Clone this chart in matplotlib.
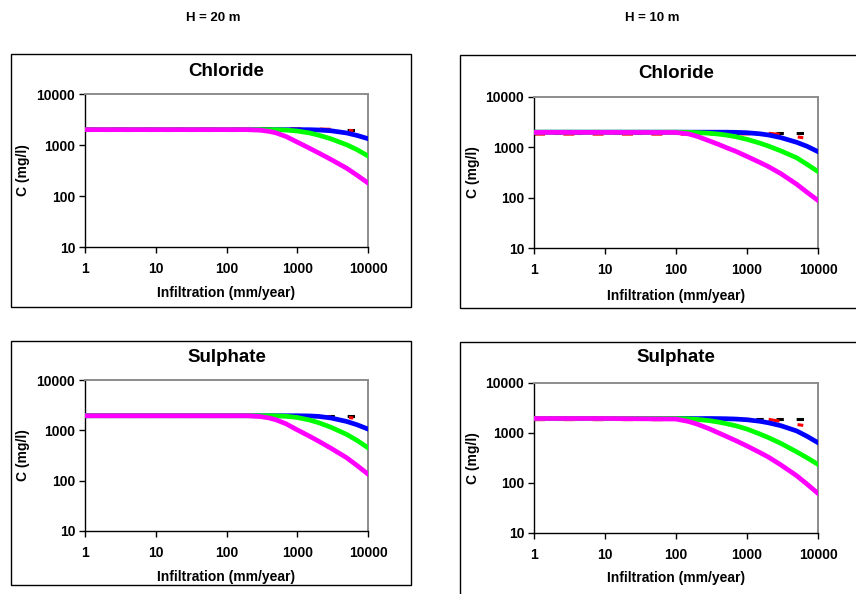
import numpy as np
import matplotlib
matplotlib.use("Agg")
import matplotlib.pyplot as plt
from matplotlib.patches import Rectangle
from matplotlib.ticker import FixedLocator, FixedFormatter, NullLocator

plt.rcParams["font.family"] = ["Liberation Sans", "DejaVu Sans"]
plt.rcParams["font.weight"] = "bold"

W, H = 856, 594

# Infiltration values (mm/year) shared by the model curves
infil = [1, 10, 100, 150, 200, 300, 400, 500, 700, 1000, 1500, 2000, 3000, 5000, 7000, 10000]

# Dashed reference series
black_x = [1, 10, 100, 1000, 7600]
red_x = [1, 10, 100, 1000, 2000, 3000, 5000, 6200]

# Chloride, H = 20 m
cl20_blue = [2000, 2000, 2000, 2000, 2000, 2000, 2000, 2000, 2000, 2000, 1995, 1970, 1900, 1720, 1540, 1330]
cl20_green = [2000, 2000, 2000, 2000, 2000, 2000, 2000, 1995, 1960, 1880, 1720, 1560, 1320, 1010, 810, 610]
cl20_magenta = [2000, 2000, 2000, 2000, 2000, 1950, 1850, 1730, 1460, 1140, 860, 700, 520, 350, 255, 180]
cl20_black = [2000, 2000, 2000, 2000, 2000]
cl20_red = [2080, 2080, 2080, 2080, 2060, 2030, 1950, 1900]

# Chloride, H = 10 m
cl10_blue = [2000, 2000, 2000, 2000, 2000, 2000, 2000, 2000, 1985, 1950, 1860, 1760, 1560, 1260, 1050, 820]
cl10_green = [2000, 2000, 2000, 1985, 1960, 1900, 1830, 1760, 1620, 1440, 1220, 1060, 850, 620, 460, 330]
cl10_magenta = [1980, 1980, 1975, 1850, 1650, 1330, 1140, 1000, 830, 660, 505, 415, 300, 185, 128, 88]
cl10_black = [1900, 1900, 1900, 1900, 1900]
cl10_red = [1830, 1830, 1830, 1850, 1900, 1800, 1620, 1550]

# Sulphate, H = 20 m
so20_blue = [1950, 1950, 1950, 1950, 1950, 1950, 1950, 1950, 1950, 1950, 1930, 1890, 1760, 1500, 1290, 1060]
so20_green = [1950, 1950, 1950, 1950, 1950, 1950, 1950, 1940, 1900, 1800, 1600, 1420, 1150, 830, 630, 450]
so20_magenta = [1950, 1950, 1950, 1950, 1950, 1880, 1760, 1620, 1340, 1020, 760, 610, 440, 285, 200, 135]
so20_black = [1950, 1950, 1950, 1950, 1950]
so20_red = [1900, 1900, 1900, 1900, 1880, 1860, 1800, 1760]

# Sulphate, H = 10 m
so10_blue = [1950, 1950, 1950, 1950, 1940, 1950, 1940, 1930, 1900, 1840, 1720, 1600, 1400, 1100, 860, 640]
so10_green = [1950, 1950, 1950, 1920, 1870, 1760, 1650, 1550, 1390, 1200, 960, 810, 620, 420, 320, 235]
so10_magenta = [1950, 1950, 1900, 1700, 1500, 1200, 1000, 870, 700, 550, 410, 330, 230, 140, 95, 62]
so10_black = [1900, 1900, 1900, 1900, 1900]
so10_red = [1850, 1850, 1850, 1870, 1880, 1700, 1480, 1420]

x_ticks = [1, 10, 100, 1000, 10000]
x_tick_labels = ["1", "10", "100", "1000", "10000"]
y_ticks = [10, 100, 1000, 10000]
y_tick_labels = ["10", "100", "1000", "10000"]

column_titles = ["H = 20 m", "H = 10 m"]
panel_titles = ["Chloride", "Sulphate"]
x_label = "Infiltration (mm/year)"
y_label = "C (mg/l)"

fig = plt.figure(figsize=(W / 100, H / 100), dpi=100)


def fx(px):
    return px / W


def fy(py):
    return 1 - py / H


def frame(x0, y0, x1, y1):
    fig.add_artist(Rectangle((fx(x0), fy(y1)), fx(x1) - fx(x0), fy(y0) - fy(y1),
                             transform=fig.transFigure, fill=False,
                             edgecolor="black", linewidth=1.0, clip_on=False))


def panel(box, title, blue, green, magenta, black, red, frame_box, title_y, label_y, ylabel_x):
    x0, y0, x1, y1 = box
    ax = fig.add_axes([fx(x0), fy(y1), fx(x1) - fx(x0), fy(y0) - fy(y1)])
    ax.set_xscale("log")
    ax.set_yscale("log")
    ax.set_xlim(1, 10000)
    ax.set_ylim(10, 10000)

    ax.plot(black_x, black, color="black", lw=2.2, dashes=(2.4, 4.2), solid_capstyle="butt", zorder=2)
    ax.plot(red_x, red, color="#FF0000", lw=2.2, dashes=(3.6, 6.0), solid_capstyle="butt", zorder=2)
    ax.plot(infil, blue, color="#0000FF", lw=3.4, zorder=3, solid_joinstyle="round")
    ax.plot(infil, green, color="#00FF00", lw=3.4, zorder=4, solid_joinstyle="round")
    ax.plot(infil, magenta, color="#FF00FF", lw=3.4, zorder=5, solid_joinstyle="round")

    ax.xaxis.set_major_locator(FixedLocator(x_ticks))
    ax.xaxis.set_major_formatter(FixedFormatter(x_tick_labels))
    ax.yaxis.set_major_locator(FixedLocator(y_ticks))
    ax.yaxis.set_major_formatter(FixedFormatter(y_tick_labels))
    ax.xaxis.set_minor_locator(NullLocator())
    ax.yaxis.set_minor_locator(NullLocator())
    ax.tick_params(axis="both", direction="out", length=4, width=1, colors="black",
                   labelsize=10, pad=3)
    ax.tick_params(axis="x", pad=7)
    for lab in ax.get_xticklabels() + ax.get_yticklabels():
        lab.set_fontweight("bold")

    for side in ("left", "bottom"):
        ax.spines[side].set_color("black")
        ax.spines[side].set_linewidth(1.0)
    for side in ("top", "right"):
        ax.spines[side].set_color("#8c8c8c")
        ax.spines[side].set_linewidth(1.4)

    cx = (x0 + x1) / 2
    fig.text(fx(cx), fy(title_y), title, ha="center", va="center",
             fontsize=13.5, fontweight="bold")
    fig.text(fx(cx), fy(label_y), x_label, ha="center", va="center",
             fontsize=10, fontweight="bold")
    fig.text(fx(ylabel_x), fy((y0 + y1) / 2), y_label, ha="center", va="center",
             rotation=90, fontsize=10, fontweight="bold")
    frame(*frame_box)
    return ax


panel((85, 94, 368, 247), panel_titles[0], cl20_blue, cl20_green, cl20_magenta,
      cl20_black, cl20_red, (11, 54, 411, 307), 72, 293, 23)
panel((534, 97, 818, 248), panel_titles[0], cl10_blue, cl10_green, cl10_magenta,
      cl10_black, cl10_red, (460, 55, 900, 308), 73, 296, 473)
panel((85, 380, 368, 531), panel_titles[1], so20_blue, so20_green, so20_magenta,
      so20_black, so20_red, (11, 341, 411, 585), 358, 577, 23)
panel((534, 383, 818, 533), panel_titles[1], so10_blue, so10_green, so10_magenta,
      so10_black, so10_red, (460, 342, 900, 640), 358, 578, 473)

fig.text(fx(213), fy(18), column_titles[0], ha="center", va="center", fontsize=9.5, fontweight="bold")
fig.text(fx(652), fy(18), column_titles[1], ha="center", va="center", fontsize=9.5, fontweight="bold")

fig.savefig("out.png", dpi=100)
